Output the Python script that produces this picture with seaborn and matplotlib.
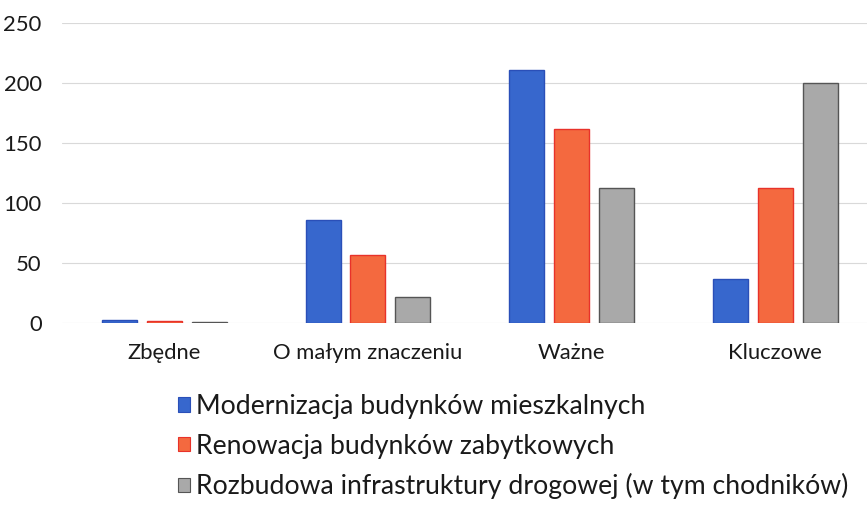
import matplotlib
matplotlib.use("Agg")
import matplotlib.pyplot as plt
import seaborn as sns
import pandas as pd
from matplotlib.patches import Patch

categories = ["Zbędne", "O małym znaczeniu", "Ważne", "Kluczowe"]
series_names = [
    "Modernizacja budynków mieszkalnych",
    "Renowacja budynków zabytkowych",
    "Rozbudowa infrastruktury drogowej (w tym chodników)",
]
modernizacja = [3, 86, 211, 37]
renowacja = [2, 57, 162, 113]
rozbudowa = [1, 22, 113, 200]
y_ticks = [0, 50, 100, 150, 200, 250]

colors = ["#3767cd", "#f4693f", "#a9a9a9"]
edges = ["#2a4fb8", "#e8322a", "#555555"]

rows = []
for name, vals in zip(series_names, [modernizacja, renowacja, rozbudowa]):
    for cat, v in zip(categories, vals):
        rows.append({"kategoria": cat, "seria": name, "liczba": v})
df = pd.DataFrame(rows)

sns.set_theme(style="white")
plt.rcParams["font.family"] = ["Lato", "DejaVu Sans"]

fig = plt.figure(figsize=(8.67, 5.05), dpi=100)
ax = fig.add_axes([0.072, 0.360, 0.928, 0.594])

sns.barplot(data=df, x="kategoria", y="liczba", hue="seria", order=categories,
            hue_order=series_names, palette=colors, width=0.66, gap=0.22,
            ax=ax, legend=False, saturation=1)

for i, container in enumerate(ax.containers):
    for bar in container:
        bar.set_edgecolor(edges[i])
        bar.set_linewidth(1.0)

ax.set_ylim(0, 250)
ax.set_xlim(-0.5, 3.45)
ax.set_yticks(y_ticks)
ax.yaxis.grid(True, color="#d9d9d9", linewidth=0.8)
ax.set_axisbelow(True)
for s in ax.spines.values():
    s.set_visible(False)
ax.set_xlabel("")
ax.set_ylabel("")
ax.tick_params(axis="y", labelsize=15.8, pad=15, length=0, colors="#1a1a1a")
ax.tick_params(axis="x", labelsize=15.8, pad=14, length=0, colors="#1a1a1a")

handles = [Patch(facecolor=c, edgecolor=e, linewidth=0.8) for c, e in zip(colors, edges)]
fig.legend(handles, series_names, loc="upper left", bbox_to_anchor=(0.205, 0.22),
           frameon=False, fontsize=19.2, handlelength=0.45, handleheight=0.45,
           handletextpad=0.25, labelspacing=0.55, borderaxespad=0, borderpad=0,
           labelcolor="#1a1a1a")

fig.savefig("out.png", dpi=100)
